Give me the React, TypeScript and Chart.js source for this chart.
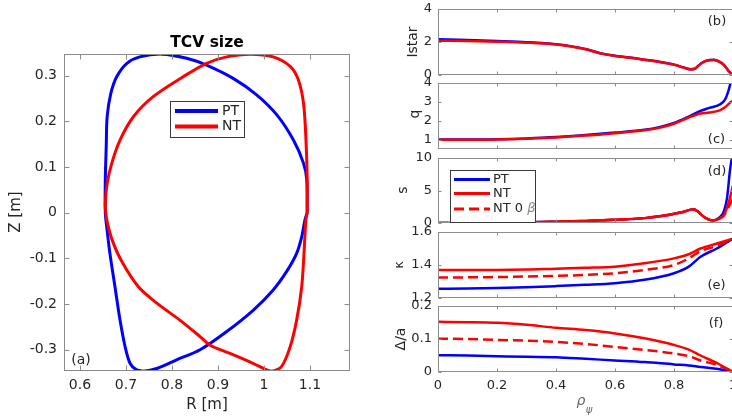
import React, { useEffect, useRef } from "react";
import { Chart, registerables } from "chart.js";
Chart.register(...registerables);

// ---------- Panel (a): plasma boundaries ----------
const ptR = [1.094, 1.093, 1.086, 1.064, 1.028, 0.984, 0.933, 0.875, 0.832, 0.778, 0.730, 0.702, 0.680, 0.667, 0.659, 0.657, 0.655, 0.655, 0.658, 0.665, 0.676, 0.687, 0.698, 0.709, 0.723, 0.738, 0.767, 0.810, 0.861, 0.919, 0.977, 1.020, 1.049, 1.071, 1.082, 1.089, 1.094];
const ptZ = [0, 0.072, 0.108, 0.159, 0.214, 0.258, 0.294, 0.323, 0.338, 0.347, 0.341, 0.327, 0.298, 0.261, 0.210, 0.144, 0.072, 0, -0.030, -0.089, -0.162, -0.235, -0.293, -0.330, -0.344, -0.347, -0.341, -0.322, -0.300, -0.260, -0.213, -0.169, -0.129, -0.089, -0.053, -0.016, 0];
const ntR = [1.094, 1.094, 1.091, 1.086, 1.075, 1.057, 1.020, 0.970, 0.919, 0.875, 0.825, 0.759, 0.716, 0.687, 0.669, 0.659, 0.655, 0.656, 0.659, 0.670, 0.690, 0.727, 0.767, 0.817, 0.861, 0.883, 0.926, 0.977, 1.006, 1.017, 1.038, 1.057, 1.071, 1.082, 1.087, 1.091, 1.094];
const ntZ = [0, 0.072, 0.166, 0.239, 0.290, 0.320, 0.341, 0.347, 0.341, 0.327, 0.298, 0.254, 0.210, 0.159, 0.108, 0.064, 0.021, 0, -0.020, -0.060, -0.105, -0.162, -0.198, -0.235, -0.271, -0.290, -0.308, -0.330, -0.344, -0.347, -0.337, -0.293, -0.235, -0.162, -0.089, -0.016, 0];
const rTicks = [0.6, 0.7, 0.8, 0.9, 1, 1.1];
const zTicks = [-0.3, -0.2, -0.1, 0, 0.1, 0.2, 0.3];

// ---------- Panel (b): Istar ----------
const rhoIstar = [0, 0.1, 0.2, 0.3, 0.4, 0.45, 0.5, 0.55, 0.6, 0.65, 0.7, 0.75, 0.8, 0.83, 0.855, 0.87, 0.89, 0.91, 0.935, 0.955, 0.97, 0.985, 1];
const istarPT = [2.16, 2.12, 2.06, 1.99, 1.87, 1.75, 1.58, 1.32, 1.16, 1.06, 0.93, 0.8, 0.63, 0.47, 0.35, 0.38, 0.68, 0.87, 0.92, 0.8, 0.6, 0.25, 0];
const istarNT = [2.08, 2.06, 2.02, 1.96, 1.85, 1.73, 1.56, 1.31, 1.15, 1.05, 0.92, 0.79, 0.62, 0.46, 0.34, 0.37, 0.67, 0.86, 0.91, 0.79, 0.59, 0.24, 0];
const istarTicks = [0, 2, 4];

// ---------- Panel (c): q ----------
const rhoQ = [0, 0.1, 0.2, 0.3, 0.4, 0.5, 0.6, 0.7, 0.75, 0.8, 0.85, 0.89, 0.92, 0.955, 0.973, 0.984, 0.993, 1];
const qPT = [1.0, 1.0, 1.02, 1.06, 1.13, 1.24, 1.37, 1.52, 1.66, 1.88, 2.22, 2.52, 2.68, 2.86, 3.12, 3.55, 4.1, 4.6];
const qNT = [0.99, 0.99, 1.01, 1.05, 1.11, 1.21, 1.34, 1.49, 1.62, 1.84, 2.17, 2.38, 2.43, 2.55, 2.72, 2.87, 3.0, 3.05];
const qTicks = [1, 2, 3, 4];

// ---------- Panel (d): s ----------
const rhoS = [0, 0.1, 0.2, 0.3, 0.4, 0.5, 0.6, 0.7, 0.79, 0.83, 0.865, 0.88, 0.9, 0.915, 0.93, 0.945, 0.96, 0.97, 0.98, 0.99, 1];
const sPT = [0, 0.02, 0.05, 0.1, 0.2, 0.32, 0.5, 0.75, 1.3, 1.7, 2.1, 1.8, 1.0, 0.6, 0.4, 0.55, 1.1, 1.9, 3.9, 8.2, 11];
const sNT = [0, 0.02, 0.05, 0.1, 0.2, 0.32, 0.5, 0.75, 1.3, 1.7, 2.1, 1.8, 1.0, 0.6, 0.4, 0.5, 0.85, 1.3, 2.4, 3.9, 5.8];
const sNT0 = [0, 0.02, 0.05, 0.1, 0.2, 0.32, 0.5, 0.75, 1.3, 1.7, 2.1, 1.8, 1.0, 0.6, 0.4, 0.5, 0.8, 1.2, 2.0, 2.9, 3.8];
const sTicks = [0, 5, 10];

// ---------- Panel (e): kappa ----------
const rhoKappa = [0, 0.1, 0.2, 0.3, 0.4, 0.5, 0.6, 0.7, 0.8, 0.85, 0.89, 0.945, 1];
const kappaPT = [1.256, 1.257, 1.26, 1.265, 1.272, 1.28, 1.29, 1.31, 1.35, 1.39, 1.45, 1.50, 1.56];
const kappaNT = [1.37, 1.37, 1.37, 1.372, 1.378, 1.383, 1.39, 1.41, 1.44, 1.465, 1.5, 1.53, 1.56];
const kappaNT0 = [1.325, 1.325, 1.327, 1.33, 1.334, 1.34, 1.35, 1.37, 1.40, 1.44, 1.484, 1.516, 1.56];
const kappaTicks = [1.2, 1.4, 1.6];

// ---------- Panel (f): shift ----------
const rhoShift = [0, 0.1, 0.2, 0.3, 0.4, 0.5, 0.6, 0.7, 0.8, 0.85, 0.89, 0.95, 1];
const shiftPT = [0.051, 0.05, 0.048, 0.046, 0.045, 0.04, 0.035, 0.03, 0.023, 0.02, 0.015, 0.009, 0];
const shiftNT = [0.152, 0.151, 0.149, 0.143, 0.134, 0.127, 0.117, 0.102, 0.082, 0.068, 0.05, 0.025, 0];
const shiftNT0 = [0.101, 0.1, 0.097, 0.095, 0.091, 0.085, 0.076, 0.067, 0.056, 0.048, 0.035, 0.02, 0];
const shiftTicks = [0, 0.1, 0.2];
const rhoTicks = [0, 0.2, 0.4, 0.6, 0.8, 1];

const W = 760;
const H = 418;
const FONT = "'DejaVu Sans', sans-serif";
const AX = "#262626";
const FRAME = "#8c8c8c";
const BLUE = "#0000ff";
const RED = "#ff0000";

type Txt = { t: string; x: number; y: number; size: number; rot?: boolean; bold?: boolean; italic?: boolean; color?: string; align?: CanvasTextAlign };
type LegItem = { label: string; color: string; dash?: number[]; beta?: boolean };
type Leg = { box: [number, number, number, number]; lineX: [number, number]; textX: number; ys: number[]; size: number; lw: number; items: LegItem[] };

function line(xs: number[], ys: number[], color: string, width: number, order: number, dash?: number[], mono = true) {
  return {
    data: xs.map((x, i) => ({ x, y: ys[i] })),
    showLine: true,
    borderColor: color,
    backgroundColor: color,
    borderWidth: width,
    borderDash: dash || [],
    pointRadius: 0,
    fill: false,
    order,
    tension: mono ? 0.4 : 0.3,
    cubicInterpolationMode: mono ? "monotone" : "default",
  };
}

function makeChart(canvas: HTMLCanvasElement, p: any) {
  const deco = {
    id: "deco" + Math.random().toString(36).slice(2),
    afterDatasetsDraw(chart: any) {
      const ctx: CanvasRenderingContext2D = chart.ctx;
      const a = chart.chartArea;
      const xs = chart.scales.x;
      const ys = chart.scales.y;
      ctx.save();
      ctx.strokeStyle = FRAME;
      ctx.lineWidth = 1;
      const L = Math.round(a.left) + 0.5;
      const R = Math.round(a.right) - 0.5;
      const T = Math.round(a.top) + 0.5;
      const B = Math.round(a.bottom) - 0.5;
      ctx.strokeRect(L, T, R - L, B - T);
      ctx.beginPath();
      xs.ticks.forEach((tk: any) => {
        const px = Math.round(xs.getPixelForValue(tk.value)) + 0.5;
        ctx.moveTo(px, B); ctx.lineTo(px, B - p.tickLen);
        ctx.moveTo(px, T); ctx.lineTo(px, T + p.tickLen);
      });
      ys.ticks.forEach((tk: any) => {
        const py = Math.round(ys.getPixelForValue(tk.value)) + 0.5;
        ctx.moveTo(L, py); ctx.lineTo(L + p.tickLen, py);
        ctx.moveTo(R, py); ctx.lineTo(R - p.tickLen, py);
      });
      ctx.stroke();

      const lg: Leg | undefined = p.legend;
      if (lg) {
        const [bx, by, bw, bh] = lg.box;
        ctx.fillStyle = "#ffffff";
        ctx.fillRect(bx, by, bw, bh);
        ctx.strokeStyle = "#3a3a3a";
        ctx.lineWidth = 1;
        ctx.strokeRect(bx + 0.5, by + 0.5, bw, bh);
        lg.items.forEach((it, i) => {
          const y = lg.ys[i];
          ctx.beginPath();
          ctx.strokeStyle = it.color;
          ctx.lineWidth = lg.lw;
          ctx.setLineDash(it.dash || []);
          ctx.moveTo(lg.lineX[0], y);
          ctx.lineTo(lg.lineX[1], y);
          ctx.stroke();
          ctx.setLineDash([]);
          ctx.fillStyle = AX;
          ctx.textAlign = "left";
          ctx.textBaseline = "middle";
          ctx.font = `${lg.size}px ${FONT}`;
          ctx.fillText(it.label, lg.textX, y);
          if (it.beta) {
            const w = ctx.measureText(it.label + " ").width;
            ctx.font = `italic ${lg.size}px ${FONT}`;
            ctx.fillStyle = "#8a8a8a";
            ctx.fillText("β", lg.textX + w, y);
          }
        });
      }

      (p.texts as Txt[]).forEach((tx) => {
        ctx.save();
        ctx.fillStyle = tx.color || AX;
        ctx.font = `${tx.italic ? "italic " : ""}${tx.bold ? "bold " : ""}${tx.size}px ${FONT}`;
        ctx.textAlign = tx.align || "center";
        ctx.textBaseline = "middle";
        ctx.translate(tx.x, tx.y);
        if (tx.rot) ctx.rotate(-Math.PI / 2);
        ctx.fillText(tx.t, 0, 0);
        ctx.restore();
      });
      ctx.restore();
    },
  };

  const area = p.area;
  const showX = p.showX;
  return new Chart(canvas, {
    type: "scatter",
    data: { datasets: p.datasets },
    options: {
      animation: false,
      responsive: false,
      devicePixelRatio: 1,
      events: [],
      layout: { padding: { left: 0, top: area.top, right: W - area.right, bottom: showX ? 0 : H - area.bottom } },
      plugins: { legend: { display: false }, tooltip: { enabled: false } },
      scales: {
        x: {
          type: "linear",
          position: "bottom",
          min: p.xMin,
          max: p.xMax,
          grid: { display: false, drawTicks: false },
          border: { display: false },
          ticks: {
            display: showX,
            padding: p.xPad,
            color: AX,
            maxRotation: 0,
            autoSkip: false,
            font: { family: FONT, size: p.fs },
            callback: (v: any) => String(v),
          },
          afterBuildTicks: (s: any) => { s.ticks = p.xTicks.map((v: number) => ({ value: v })); },
          afterFit: (s: any) => {
            s.height = showX ? H - area.bottom : 0;
            s.paddingLeft = 0; s.paddingRight = 0; s.paddingTop = 0; s.paddingBottom = 0;
          },
        },
        y: {
          type: "linear",
          position: "left",
          min: p.yMin,
          max: p.yMax,
          grid: { display: false, drawTicks: false },
          border: { display: false },
          ticks: {
            padding: p.yPad,
            color: AX,
            autoSkip: false,
            font: { family: FONT, size: p.fs },
            callback: (v: any) => String(v),
          },
          afterBuildTicks: (s: any) => { s.ticks = p.yTicks.map((v: number) => ({ value: v })); },
          afterFit: (s: any) => {
            s.width = area.left;
            s.paddingLeft = 0; s.paddingRight = 0; s.paddingTop = 0; s.paddingBottom = 0;
          },
        },
      },
    } as any,
    plugins: [deco],
  });
}

function buildSpecs() {
  const RL = 438;
  const RR = 733;
  const lwR = 2.5;
  const rightBase = { xMin: 0, xMax: 1, xTicks: rhoTicks, fs: 13, xPad: 6, yPad: 6, tickLen: 3, legend: undefined as any };
  return [
    {
      area: { left: 64, top: 54, right: 350, bottom: 371 },
      xMin: 0.5652, xMax: 1.187, yMin: -0.3464, yMax: 0.3473,
      xTicks: rTicks, yTicks: zTicks, showX: true, fs: 14, xPad: 6, yPad: 7, tickLen: 5,
      datasets: [line(ptR, ptZ, BLUE, 3, 2, undefined, false), line(ntR, ntZ, RED, 3, 1, undefined, false)],
      legend: {
        box: [170, 101, 74, 36], lineX: [175, 218], textX: 222, ys: [111, 126.5], size: 14, lw: 4,
        items: [{ label: "PT", color: BLUE }, { label: "NT", color: RED }],
      },
      texts: [
        { t: "TCV size", x: 207, y: 42.5, size: 15.5, bold: true, color: "#000" },
        { t: "Z [m]", x: 16, y: 212, size: 15, rot: true },
        { t: "R [m]", x: 207, y: 405, size: 15 },
        { t: "(a)", x: 81, y: 360, size: 14 },
      ],
    },
    {
      ...rightBase,
      area: { left: RL, top: 9, right: RR, bottom: 75 },
      yMin: 0, yMax: 4, yTicks: istarTicks, showX: false,
      datasets: [line(rhoIstar, istarPT, BLUE, lwR, 2), line(rhoIstar, istarNT, RED, lwR, 1)],
      texts: [
        { t: "Istar", x: 413, y: 42, size: 14, rot: true },
        { t: "(b)", x: 717, y: 22, size: 13 },
      ],
    },
    {
      ...rightBase,
      area: { left: RL, top: 83, right: RR, bottom: 149 },
      yMin: 0.5, yMax: 4, yTicks: qTicks, showX: false,
      datasets: [line(rhoQ, qPT, BLUE, lwR, 2), line(rhoQ, qNT, RED, lwR, 1)],
      texts: [
        { t: "q", x: 415, y: 114, size: 14, rot: true },
        { t: "(c)", x: 716.5, y: 140, size: 13 },
      ],
    },
    {
      ...rightBase,
      area: { left: RL, top: 158, right: RR, bottom: 223 },
      yMin: 0, yMax: 10, yTicks: sTicks, showX: false,
      datasets: [
        line(rhoS, sPT, BLUE, lwR, 3),
        line(rhoS, sNT0, RED, lwR, 2, [10, 5]),
        line(rhoS, sNT, RED, lwR, 1),
      ],
      legend: {
        box: [450, 170, 85, 52], lineX: [454, 490], textX: 493, ys: [179.5, 193.5, 209], size: 13, lw: 3,
        items: [
          { label: "PT", color: BLUE },
          { label: "NT", color: RED },
          { label: "NT 0", color: RED, dash: [10, 5], beta: true },
        ],
      },
      texts: [
        { t: "s", x: 403, y: 190, size: 14, rot: true },
        { t: "(d)", x: 717, y: 172, size: 13 },
      ],
    },
    {
      ...rightBase,
      area: { left: RL, top: 232, right: RR, bottom: 298 },
      yMin: 1.2, yMax: 1.6, yTicks: kappaTicks, showX: false,
      datasets: [
        line(rhoKappa, kappaPT, BLUE, lwR, 3),
        line(rhoKappa, kappaNT0, RED, lwR, 2, [10, 5]),
        line(rhoKappa, kappaNT, RED, lwR, 1),
      ],
      texts: [
        { t: "κ", x: 400, y: 265, size: 13, rot: true },
        { t: "(e)", x: 716.5, y: 286, size: 13 },
      ],
    },
    {
      ...rightBase,
      area: { left: RL, top: 306, right: RR, bottom: 372 },
      yMin: 0, yMax: 0.2, yTicks: shiftTicks, showX: true,
      datasets: [
        line(rhoShift, shiftPT, BLUE, lwR, 3),
        line(rhoShift, shiftNT0, RED, lwR, 2, [10, 5]),
        line(rhoShift, shiftNT, RED, lwR, 1),
      ],
      texts: [
        { t: "Δ/a", x: 401, y: 339, size: 14, rot: true },
        { t: "(f)", x: 716, y: 323.5, size: 13 },
        { t: "ρ", x: 581, y: 401, size: 14, italic: true, color: "#666" },
        { t: "ψ", x: 589, y: 410, size: 10, italic: true, color: "#666" },
      ],
    },
  ];
}

export default function App() {
  const refs = useRef<(HTMLCanvasElement | null)[]>([]);
  useEffect(() => {
    const specs = buildSpecs();
    const charts = specs.map((sp, i) => makeChart(refs.current[i] as HTMLCanvasElement, sp));
    return () => charts.forEach((c) => c.destroy());
  }, []);
  return (
    <div style={{ position: "fixed", left: 0, top: 0, width: 732, height: 418, overflow: "hidden", background: "#fff" }}>
      {[0, 1, 2, 3, 4, 5].map((i) => (
        <canvas
          key={i}
          ref={(el) => { refs.current[i] = el; }}
          width={W}
          height={H}
          style={{ position: "absolute", left: 0, top: 0, width: W, height: H }}
        />
      ))}
    </div>
  );
}
